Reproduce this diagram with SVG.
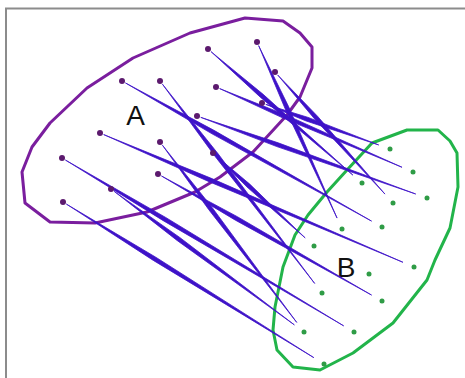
<svg xmlns="http://www.w3.org/2000/svg" width="465" height="378" viewBox="0 0 465 378">
<style>
.frame{fill:none;stroke:#8c8c8c;stroke-width:2}
.setA{fill:none;stroke:#7a1e9e;stroke-width:3;stroke-linejoin:round}
.setB{fill:none;stroke:#22b44a;stroke-width:3;stroke-linejoin:round}
.pa{fill:#5c1a6e}
.pb{fill:#2f9c46}
.edge{fill:#3e12c8;stroke:#3e12c8;stroke-width:0.7;stroke-linejoin:round}
.lbl{font-family:"Liberation Sans",Arial,sans-serif;font-size:28px;fill:#111;text-anchor:middle}
</style>
<rect width="465" height="378" fill="#fff"/>
<path class="frame" d="M6,378 V8.5 H465"/>
<g id="setA">
<polygon class="setA" points="22,172 32,147 50,123 87,88 133,58 190,33 245,18 283,21 300,33 312,47 312,68 300,97 287,115 253,152 220,177 195,192 147,212 95,223 50,222 25,203"/>
<text class="lbl" x="135.5" y="125">A</text>
</g>
<g id="setB">
<polygon class="setB" points="372,143 407,130 438,130 450,141 457,153 458,187 450,228 435,260 427,280 393,323 353,353 320,370 293,367 277,350 273,330 275,307 283,267 295,235 308,215 327,192 347,170"/>
<text class="lbl" x="346" y="277">B</text>
</g>
<g id="connectors">
<path class="edge" transform="translate(208,49) rotate(41.03)" d="M4,0 L71.4,-2 L192.1,0 L71.4,2 Z"/>
<path class="edge" transform="translate(257,42) rotate(65.55)" d="M4,0 L71.9,-2 L193.4,0 L71.9,2 Z"/>
<path class="edge" transform="translate(122,81) rotate(29.31)" d="M4,0 L104.4,-2 L286.2,0 L104.4,2 Z"/>
<path class="edge" transform="translate(160,81) rotate(52.62)" d="M4,0 L93.4,-2 L254.8,0 L93.4,2 Z"/>
<path class="edge" transform="translate(216,87) rotate(23.34)" d="M4,0 L75.1,-2 L202.6,0 L75.1,2 Z"/>
<path class="edge" transform="translate(275,72) rotate(47.99)" d="M4,0 L61.7,-2 L164.3,0 L61.7,2 Z"/>
<path class="edge" transform="translate(262,103) rotate(19.77)" d="M4,0 L47.6,-2 L124,0 L47.6,2 Z"/>
<path class="edge" transform="translate(197,116) rotate(19.63)" d="M4,0 L85.5,-2 L232.2,0 L85.5,2 Z"/>
<path class="edge" transform="translate(100,133) rotate(23.11)" d="M4,0 L119.5,-2 L329.4,0 L119.5,2 Z"/>
<path class="edge" transform="translate(160,142) rotate(52.84)" d="M4,0 L83.4,-2 L226.4,0 L83.4,2 Z"/>
<path class="edge" transform="translate(213,153) rotate(42.64)" d="M4,0 L48.1,-2 L125.3,0 L48.1,2 Z"/>
<path class="edge" transform="translate(62,158) rotate(30.79)" d="M4,0 L119,-2 L327.9,0 L119,2 Z"/>
<path class="edge" transform="translate(158,174) rotate(29.55)" d="M4,0 L90.1,-2 L245.5,0 L90.1,2 Z"/>
<path class="edge" transform="translate(111,189) rotate(36.54)" d="M4,0 L84.1,-2 L228.2,0 L84.1,2 Z"/>
<path class="edge" transform="translate(63,202) rotate(31.82)" d="M4,0 L107.5,-2 L295.2,0 L107.5,2 Z"/>
</g>
<g id="pointsA">
<circle class="pa" cx="208" cy="49" r="3"/>
<circle class="pa" cx="257" cy="42" r="3"/>
<circle class="pa" cx="122" cy="81" r="3"/>
<circle class="pa" cx="160" cy="81" r="3"/>
<circle class="pa" cx="216" cy="87" r="3"/>
<circle class="pa" cx="275" cy="72" r="3"/>
<circle class="pa" cx="262" cy="103" r="3"/>
<circle class="pa" cx="197" cy="116" r="3"/>
<circle class="pa" cx="100" cy="133" r="3"/>
<circle class="pa" cx="160" cy="142" r="3"/>
<circle class="pa" cx="213" cy="153" r="3"/>
<circle class="pa" cx="62" cy="158" r="3"/>
<circle class="pa" cx="158" cy="174" r="3"/>
<circle class="pa" cx="111" cy="189" r="3"/>
<circle class="pa" cx="63" cy="202" r="3"/>
</g>
<g id="pointsB">
<circle class="pb" cx="390" cy="149" r="2.5"/>
<circle class="pb" cx="413" cy="172" r="2.5"/>
<circle class="pb" cx="362" cy="183" r="2.5"/>
<circle class="pb" cx="427" cy="198" r="2.5"/>
<circle class="pb" cx="393" cy="203" r="2.5"/>
<circle class="pb" cx="382" cy="227" r="2.5"/>
<circle class="pb" cx="342" cy="229" r="2.5"/>
<circle class="pb" cx="314" cy="246" r="2.5"/>
<circle class="pb" cx="414" cy="267" r="2.5"/>
<circle class="pb" cx="369" cy="274" r="2.5"/>
<circle class="pb" cx="322" cy="293" r="2.5"/>
<circle class="pb" cx="382" cy="301" r="2.5"/>
<circle class="pb" cx="304" cy="332" r="2.5"/>
<circle class="pb" cx="354" cy="332" r="2.5"/>
<circle class="pb" cx="324" cy="364" r="2.5"/>
</g>
</svg>
